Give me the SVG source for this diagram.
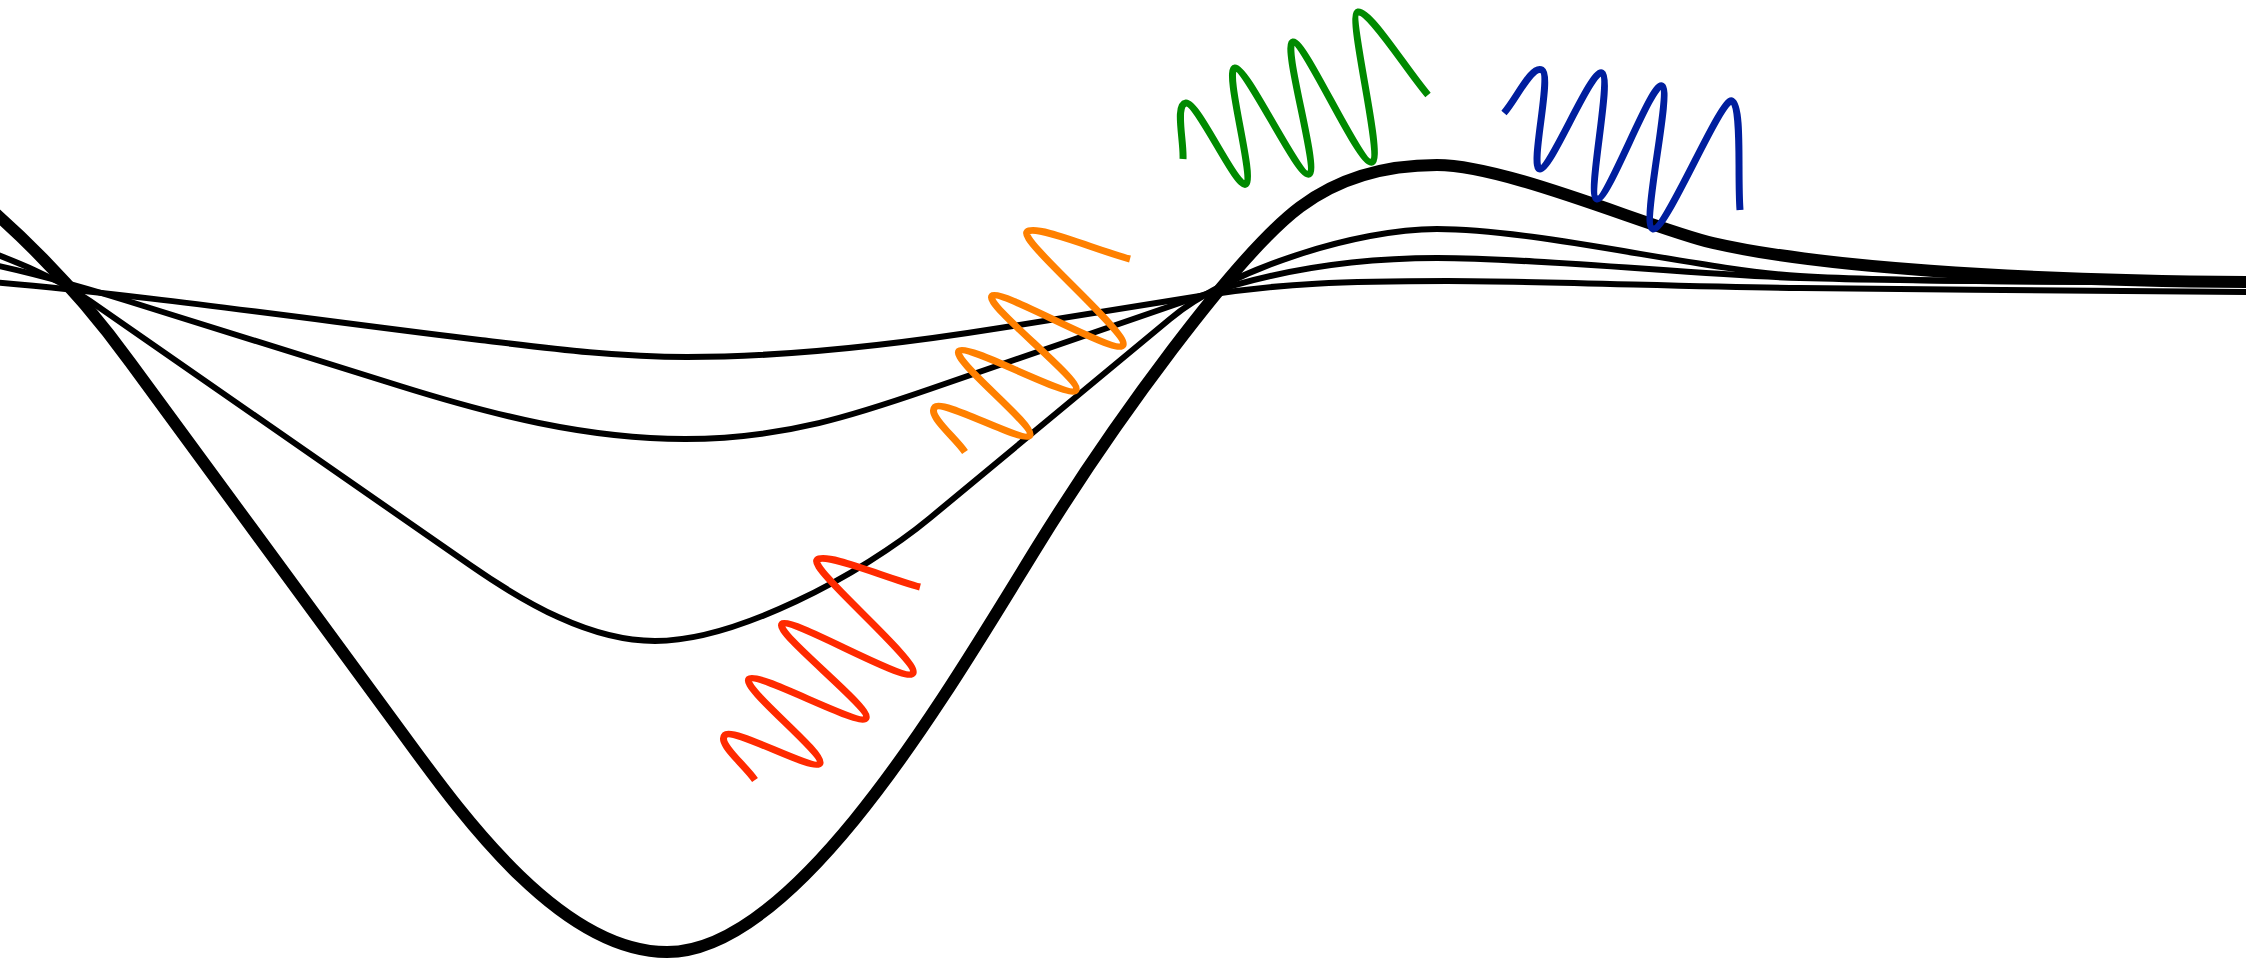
<svg xmlns="http://www.w3.org/2000/svg" width="2246" height="961" viewBox="0 0 2246 961">
  <style>
    .curve { fill: none; stroke: #000; stroke-linejoin: round; stroke-linecap: butt; }
    .thick { stroke-width: 12; }
    .thin { stroke-width: 6; }
    .wave { fill: none; stroke-width: 7; stroke-linecap: butt; stroke-linejoin: round; }
  </style>
  <defs>
    <!-- oscillating packet shared by the red and orange rays -->
    <path id="packet" d="M 755 780 C 745 765, 716.6 743.2, 725 735 C 733.4 726.8, 815.6 773.2, 820 763 C 824.4 752.8, 740.6 687.2, 749 679 C 757.4 670.8, 860 728, 866 718 C 872 708, 773.5 632.2, 782 624 C 790.5 615.8, 906.6 684.6, 913 673 C 919.4 661.4, 808.5 568.2, 817 560 C 825.5 551.8, 885.7 578, 920 587"/>
  </defs>
  <rect width="2246" height="961" fill="#fff"/>

  <g id="curves">
    <path id="curve-deep" class="curve thick" d="M -20 200 C 30 242.5, 80 293, 130 362 L 400 730 C 455 804.8, 557 952, 667 952 C 797 952, 947 692.8, 1037 547 C 1112 425.5, 1235 255.75, 1300 207 C 1340 177, 1387 165, 1437 165 C 1507 165, 1653 229.2, 1713 243 C 1813 266, 2010 281, 2260 282"/>
    <path id="curve-second" class="curve thin" d="M -20 248 C 15 261.3, 55 276.7, 90 301 L 470 565 C 525 603.2, 590 641, 655 641 C 735 641, 860 576, 930 518 L 1170 319 C 1230 269.2, 1357 229, 1437 229 C 1537 229, 1700 270, 1800 276 C 1900 282, 2100 282, 2260 282"/>
    <path id="curve-third" class="curve thin" d="M -20 262 C 37 273.4, 93 289.8, 150 308 L 400 386 C 490 414.1, 585 439, 685 439 C 785 439, 860 413.2, 930 389 L 1200 296 C 1265 273.6, 1347 258, 1437 258 C 1537 258, 1700 275, 1800 278 C 1900 281, 2100 282, 2260 282"/>
    <path id="curve-shallow" class="curve thin" d="M -20 281 C 130 293, 330 322, 480 340 C 550 348.4, 617 357, 687 357 C 787 357, 900 344, 1000 328 L 1200 296 C 1280 283.2, 1347 281, 1447 281 C 1547 281, 1700 287.5, 1800 288 C 1950 289.5, 2150 292, 2260 292"/>
  </g>

  <g id="waves">
    <use id="wave-red" href="#packet" class="wave" stroke="#ff2a00"/>
    <use id="wave-orange" href="#packet" class="wave" stroke="#ff8000" transform="translate(210,-328)"/>
    <path id="wave-green" class="wave" stroke="#008a00" d="M 1183 159 C 1184 140.3, 1174.6 104.8, 1186 103 C 1197.4 101.2, 1237.1 190.4, 1246 184 C 1254.9 177.6, 1223.6 69.8, 1235 68 C 1246.4 66.2, 1298.5 178.7, 1309 174 C 1319.5 169.3, 1281.6 44.2, 1293 42 C 1304.4 39.8, 1360.2 167.5, 1372 162 C 1383.8 156.5, 1346.6 14.2, 1358 12 C 1369.4 9.8, 1404.7 67.3, 1428 95"/>
    <path id="wave-blue" class="wave" stroke="#001e9e" d="M 1504 113 C 1516.7 98.7, 1531.6 64.5, 1542 70 C 1552.4 75.5, 1529.1 168.5, 1540 169 C 1550.9 169.5, 1591.6 67.5, 1602 73 C 1612.4 78.5, 1586.1 196.6, 1597 199 C 1607.9 201.4, 1651.8 80.5, 1662 86 C 1672.2 91.5, 1640.3 226.3, 1653 229 C 1665.7 231.7, 1721.6 95.5, 1732 101 C 1742.4 106.5, 1737.3 173.7, 1740 210"/>
  </g>
</svg>
